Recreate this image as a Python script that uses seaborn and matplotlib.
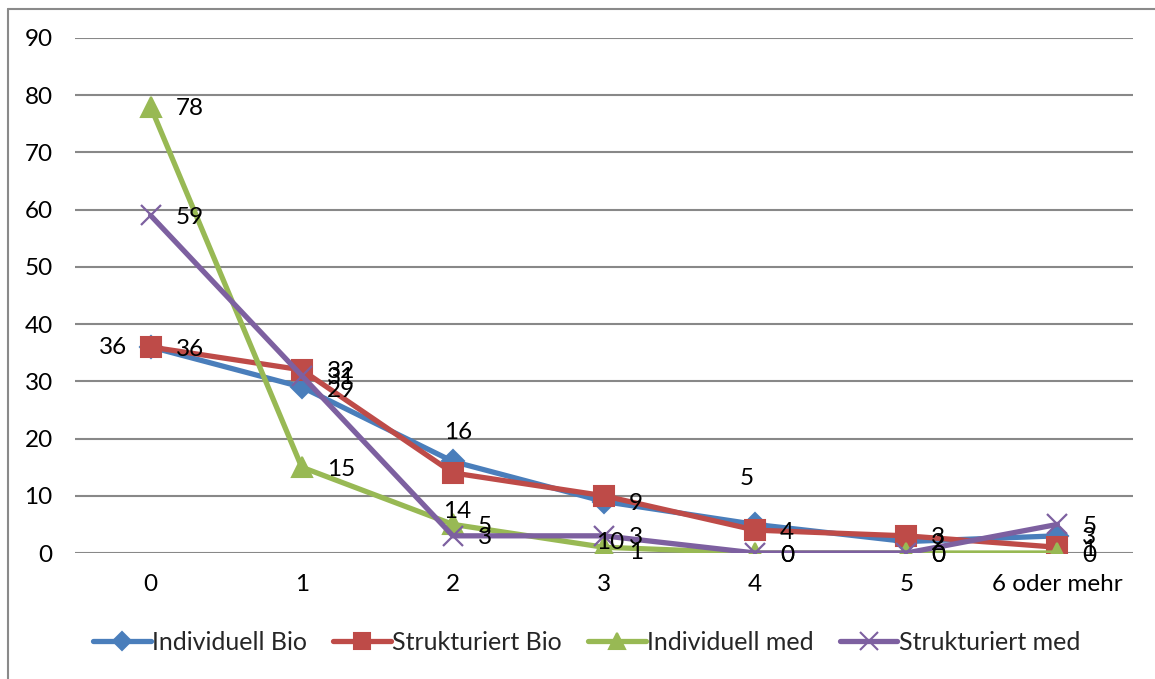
import matplotlib
matplotlib.use("Agg")
import matplotlib.pyplot as plt
import seaborn as sns
import pandas as pd
from matplotlib.lines import Line2D

categories = ["0", "1", "2", "3", "4", "5", "6 oder mehr"]
series_names = ["Individuell Bio", "Strukturiert Bio", "Individuell med", "Strukturiert med"]
individuell_bio = [36, 29, 16, 9, 5, 2, 3]
strukturiert_bio = [36, 32, 14, 10, 4, 3, 1]
individuell_med = [78, 15, 5, 1, 0, 0, 0]
strukturiert_med = [59, 31, 3, 3, 0, 0, 5]
y_ticks = [0, 10, 20, 30, 40, 50, 60, 70, 80, 90]

values = [individuell_bio, strukturiert_bio, individuell_med, strukturiert_med]
colors = ["#4A7EBB", "#BE4B48", "#98B954", "#7D60A0"]
markers = ["D", "s", "^", "x"]
msizes = [11, 14, 14, 15]

# label placement (pixels, y down): (dx, dy, ha)
R = (25, 2, "left")
label_pos = [
    [(-24, 1, "right"), (25, 3, "left"), (5, -29, "center"), R, (-8, -46, "center"), R, R],
    [R, R, (4, 39, "center"), (6, 47, "center"), R, R, R],
    [R, R, R, (25, 5, "left"), R, R, R],
    [R, R, R, R, R, R, R],
]

rows = []
for name, vals in zip(series_names, values):
    for i, v in enumerate(vals):
        rows.append({"series": name, "pos": i, "value": v})
df = pd.DataFrame(rows)

sns.set_theme(style="white")
plt.rcParams["font.family"] = ["Lato", "DejaVu Sans"]

FS = 17.5

fig = plt.figure(figsize=(11.55, 6.79), dpi=100)
ax = fig.add_axes([75 / 1155, 1 - 553 / 679, (1133 - 75) / 1155, (553 - 38) / 679])

for k, name in enumerate(series_names):
    sub = df[df["series"] == name]
    sns.lineplot(data=sub, x="pos", y="value", ax=ax, color=colors[k],
                 marker=markers[k], markersize=msizes[k], linewidth=3.8,
                 markeredgecolor=colors[k], markeredgewidth=1.5 if markers[k] != "x" else 1.6,
                 label=name, legend=False, zorder=3 + k)

px = 0.72
for k, vals in enumerate(values):
    for i, v in enumerate(vals):
        dx, dy, ha = label_pos[k][i]
        ax.annotate(str(v), (i, v), xytext=(dx * px, -dy * px), textcoords="offset points",
                    ha=ha, va="center", fontsize=FS, color="black", zorder=10)

ax.set_xlim(-0.5, 6.5)
ax.set_ylim(0, 90)
ax.set_yticks(y_ticks)
ax.set_xticks(range(len(categories)))
ax.set_xticklabels(categories)
ax.set_xlabel("")
ax.set_ylabel("")
ax.yaxis.grid(True, color="#888888", linewidth=1.5)
ax.set_axisbelow(True)
for s in ax.spines.values():
    s.set_visible(False)
ax.tick_params(axis="both", length=0, labelsize=FS, colors="black")
ax.tick_params(axis="y", pad=16)
ax.tick_params(axis="x", pad=15)

handles = [Line2D([0], [0], color=colors[k], marker=markers[k], markersize=msizes[k] - 2,
                  linewidth=3.8, markeredgecolor=colors[k], markeredgewidth=1.5)
           for k in range(4)]
fig.legend(handles, series_names, loc="center", bbox_to_anchor=(0.508, 1 - 642 / 679), ncol=4,
           frameon=False, fontsize=18, handlelength=2.3, handletextpad=0.05, columnspacing=1.05)

# outer chart border (left and top visible)
fig.add_artist(Line2D([7.5 / 1155, 7.5 / 1155], [0, 1 - 9 / 679], transform=fig.transFigure,
                      color="#8a8a8a", linewidth=1.5))
fig.add_artist(Line2D([7.5 / 1155, 1], [1 - 9 / 679, 1 - 9 / 679], transform=fig.transFigure,
                      color="#8a8a8a", linewidth=1.5))

fig.savefig("out.png", dpi=100)
